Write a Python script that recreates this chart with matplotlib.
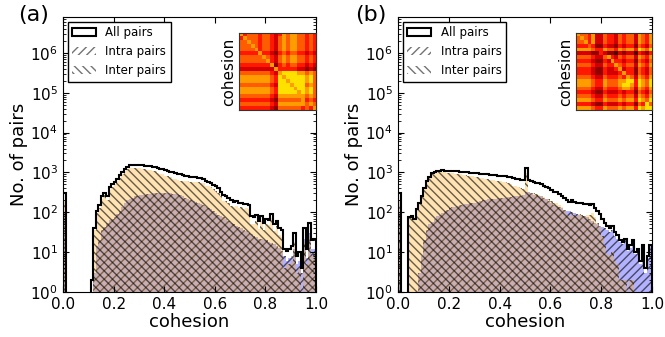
import numpy as np
import matplotlib
matplotlib.use("Agg")
import matplotlib.pyplot as plt
from matplotlib.patches import Patch

# bins of width 0.01 on [0, 1]
bin_edges = np.linspace(0, 1, 101)

# panel (a): counts per bin
intra_a = [100, 0, 0, 0, 0, 0, 0, 0, 0, 0,
           0, 1, 3, 14, 20, 35, 44, 55, 65, 70,
           78, 90, 110, 140, 170, 200, 220, 235, 250, 260,
           270, 275, 280, 290, 295, 300, 305, 310, 310, 305,
           310, 300, 300, 295, 290, 290, 280, 260, 230, 210,
           200, 190, 180, 170, 160, 150, 140, 130, 120, 105,
           95, 88, 80, 78, 70, 62, 55, 50, 45, 42,
           40, 36, 34, 30, 28, 26, 24, 22, 21, 20,
           20, 18, 17, 16, 14, 13, 11, 8, 6, 7,
           8, 12, 5, 6, 3, 22, 7, 30, 12, 12]
inter_a = [200, 0, 0, 0, 0, 0, 0, 0, 0, 0,
           0, 1, 37, 96, 130, 215, 266, 205, 355, 430,
           500, 610, 740, 910, 1080, 1200, 1280, 1315, 1330, 1260,
           1290, 1225, 1200, 1160, 1125, 1100, 1075, 990, 940, 895,
           840, 800, 750, 705, 670, 630, 620, 610, 610, 600,
           590, 580, 580, 570, 560, 530, 460, 460, 440, 375,
           350, 312, 250, 197, 190, 168, 145, 136, 145, 128,
           135, 124, 131, 120, 52, 52, 61, 38, 59, 35,
           50, 47, 73, 34, 46, 27, 24, 4, 5, 5,
           6, 18, 3, 4, 1, 18, 5, 25, 8, 10]

# panel (b): counts per bin
intra_b = [100, 0, 0, 0, 0, 0, 0, 1, 3, 8,
           20, 35, 50, 58, 70, 80, 86, 95, 105, 115,
           125, 135, 140, 145, 150, 155, 160, 165, 168, 170,
           175, 185, 195, 200, 205, 210, 215, 220, 222, 225,
           225, 230, 235, 240, 245, 250, 250, 255, 260, 270,
           330, 320, 300, 280, 270, 260, 250, 230, 210, 190,
           175, 155, 145, 135, 125, 115, 110, 105, 100, 95,
           90, 86, 82, 80, 78, 70, 62, 55, 50, 46,
           44, 40, 36, 32, 35, 26, 22, 18, 16, 20,
           11, 13, 18, 9, 11, 5, 14, 3, 7, 14]
inter_b = [200, 0, 0, 0, 75, 80, 70, 119, 167, 242,
           380, 565, 740, 892, 980, 1020, 1034, 1035, 1015, 995,
           975, 955, 940, 925, 900, 875, 850, 835, 822, 810,
           785, 765, 745, 720, 705, 690, 665, 650, 628, 615,
           605, 590, 565, 540, 515, 470, 450, 425, 400, 380,
           970, 320, 300, 300, 290, 280, 250, 240, 220, 210,
           195, 175, 175, 155, 135, 115, 90, 81, 100, 85,
           80, 89, 88, 80, 87, 85, 98, 75, 55, 44,
           26, 14, 9, 8, 10, 6, 5, 2, 2, 2,
           1, 2, 2, 1, 1, 1, 1, 1, 1, 1]

# inset cohesion matrices (digit d -> value d/10)
matrix_a = ["64555455434656655454",
            "46555455435656655454",
            "55655455435656655454",
            "55565455435656655454",
            "55556455435656655454",
            "44444644324545544343",
            "55555565435656655454",
            "55555556435656655454",
            "44444444624545544343",
            "33333333364444433232",
            "55555555436777766565",
            "66666666547677777675",
            "66666666547767777675",
            "55555555437776777565",
            "66666666547777677675",
            "66666666547777767675",
            "55555555436666666565",
            "44444444325555556454",
            "55555555436666666565",
            "44444444325555554546"]
matrix_b = ["65546335443545536546",
            "56546335443545536546",
            "55646335443545536546",
            "44454224332434425435",
            "66665446554656647657",
            "33332243221323314324",
            "55554335643545536546",
            "44443224364434425435",
            "55554335446545536546",
            "44443224334634425435",
            "44443224333464425435",
            "55554335444546536546",
            "66665446555667747657",
            "66665446555677647657",
            "55554335444566536546",
            "44443224333434425435",
            "55554335444545536546",
            "66665446555656647657",
            "44443224333434425475",
            "66665446555656647677"]

panel_labels = ["(a)", "(b)"]

fig = plt.figure(figsize=(6.65, 3.37), dpi=100)

ax_pos = [[0.0947, 0.1335, 0.3805, 0.8161], [0.5985, 0.1335, 0.382, 0.8161]]
inset_pos = [[0.3594, 0.6736, 0.1158, 0.2285], [0.8662, 0.6736, 0.1143, 0.2285]]
label_pos = [0.027, 0.534]

centers = 0.5 * (bin_edges[:-1] + bin_edges[1:])

for k, (intra, inter, mat) in enumerate([(intra_a, inter_a, matrix_a),
                                         (intra_b, inter_b, matrix_b)]):
    ax = fig.add_axes(ax_pos[k])
    ax.set_yscale('log', nonpositive='clip')
    all_pairs = np.array(intra) + np.array(inter)

    ax.hist(centers, bins=bin_edges, weights=intra, histtype='stepfilled',
            color=(0, 0, 1, 0.3), edgecolor=(0, 0, 0, 0.6), linewidth=0,
            hatch='////')
    ax.hist(centers, bins=bin_edges, weights=inter, histtype='stepfilled',
            color=(1, 0.647, 0, 0.3), edgecolor=(0, 0, 0, 0.6), linewidth=0,
            hatch='\\\\\\\\')
    ax.hist(centers, bins=bin_edges, weights=all_pairs, histtype='step',
            color='k', linewidth=1.5)

    ax.set_xlim(0, 1)
    ax.set_ylim(1, 8e6)
    ax.set_xticks([0, 0.2, 0.4, 0.6, 0.8, 1.0])
    ax.tick_params(which='both', direction='in', top=True, right=True,
                   labelsize=11)
    ax.tick_params(which='major', length=4)
    ax.tick_params(which='minor', length=2)
    ax.set_xlabel('cohesion', fontsize=13, labelpad=1)
    ax.set_ylabel('No. of pairs', fontsize=13, labelpad=2)

    handles = [Patch(facecolor='white', edgecolor='k', linewidth=1.5),
               Patch(facecolor='white', edgecolor='0.45', linewidth=0, hatch='////'),
               Patch(facecolor='white', edgecolor='0.45', linewidth=0, hatch='\\\\\\\\')]
    leg = ax.legend(handles, ['All pairs', 'Intra pairs', 'Inter pairs'],
                    loc='upper left', fontsize=8.5, fancybox=False,
                    edgecolor='k', framealpha=1, handlelength=2.0,
                    borderaxespad=0.4)
    leg.get_frame().set_linewidth(1.0)

    # inset matrix
    ins = fig.add_axes(inset_pos[k])
    img = np.array([[int(c) / 10 for c in row] for row in mat])
    ins.imshow(img, cmap='hot', vmin=0, vmax=1, aspect='auto',
               interpolation='nearest')
    ins.set_xticks([])
    ins.set_yticks([])
    ins.set_ylabel('cohesion', fontsize=11, labelpad=2)
    for sp in ins.spines.values():
        sp.set_color('0.2')
        sp.set_linewidth(0.8)

    fig.text(label_pos[k], 0.985, panel_labels[k], fontsize=16, va='top')

fig.savefig('out.png', dpi=100)
